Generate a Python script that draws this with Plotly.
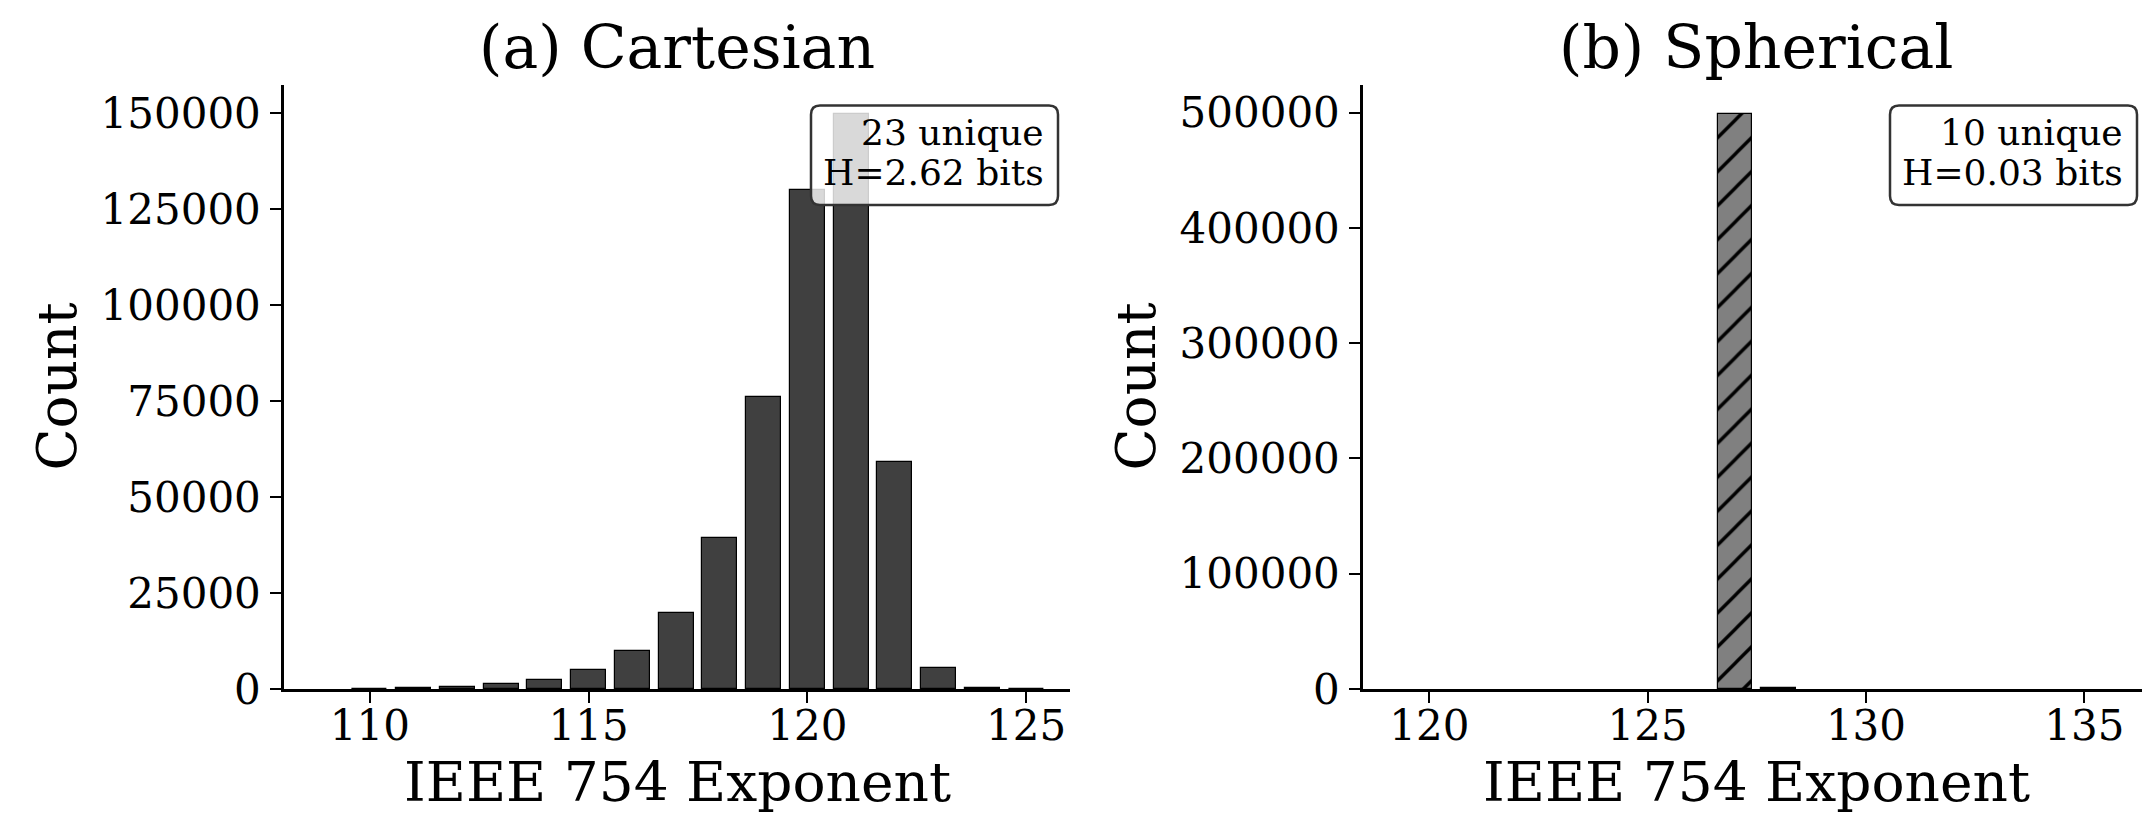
import plotly.graph_objects as go

# ---- data ----
cart_exp = [110, 111, 112, 113, 114, 115, 116, 117, 118, 119, 120, 121, 122, 123, 124, 125]
cart_cnt = [80, 250, 650, 1200, 2400, 4900, 9800, 19800, 39300, 76000, 130000, 149800, 59000, 5500, 300, 40]
sph_exp = [127, 128]
sph_cnt = [499000, 800]
titles = ["(a) Cartesian", "(b) Spherical"]
stats_line1 = ["23 unique", "10 unique"]
stats_line2 = ["H=2.62 bits", "H=0.03 bits"]
xlabel = "IEEE 754 Exponent"
ylabel = "Count"

W, H = 2142, 816
FONT = "DejaVu Serif"

# pixel geometry of the two axes
ax_px = [(284, 1070), (1363, 2142)]
y_top, y_bot = 85, 689
unit_px = [43.76, 43.66]
x_start = [108.04, 118.48]

fig = go.Figure()
fig.add_trace(go.Bar(x=cart_exp, y=cart_cnt, width=0.8, xaxis="x", yaxis="y",
                     marker=dict(color="#404040", line=dict(color="black", width=1.2)),
                     showlegend=False))
fig.add_trace(go.Bar(x=sph_exp, y=sph_cnt, width=0.8, xaxis="x2", yaxis="y2",
                     marker=dict(color="#808080", line=dict(color="black", width=1.2),
                                 pattern=dict(shape="/", fgcolor="black", bgcolor="#808080",
                                              fillmode="replace", size=24, solidity=0.14)),
                     showlegend=False))

def px(x):
    return x / W

def py(y):
    return (H - y) / H

axis_common = dict(showgrid=False, zeroline=False, showline=True, linecolor="black",
                   linewidth=2.5, ticks="outside", ticklen=11, tickwidth=2, automargin=False,
                   tickcolor="black", tickfont=dict(family=FONT, size=42, color="black"))

yd = [py(y_bot), py(y_top)]
for i, (x0, x1) in enumerate(ax_px):
    xr = [x_start[i], x_start[i] + (x1 - x0) / unit_px[i]]
    suffix = "" if i == 0 else "2"
    fig.layout["xaxis" + suffix] = dict(domain=[px(x0), px(x1)], range=xr, dtick=5, tick0=0,
                                        anchor="y" + suffix, ticklabelstandoff=-13, **axis_common)
counts = [cart_cnt, sph_cnt]
dticks = [25000, 100000]
for i in range(2):
    suffix = "" if i == 0 else "2"
    fig.layout["yaxis" + suffix] = dict(domain=yd, range=[0, max(counts[i]) * 1.05],
                                        dtick=dticks[i], tickformat="d",
                                        anchor="x" + suffix, ticklabelstandoff=1, **axis_common)

annotations = []
shapes = []
for i, (x0, x1) in enumerate(ax_px):
    full_right = x0 + 786
    cx = (x0 + full_right) / 2
    annotations.append(dict(text=titles[i], x=px(cx), y=py(47), xref="paper", yref="paper",
                            showarrow=False, xanchor="center", yanchor="middle",
                            font=dict(family=FONT, size=60, color="black")))
    annotations.append(dict(text=xlabel, x=px(cx), y=py(782), xref="paper", yref="paper",
                            showarrow=False, xanchor="center", yanchor="middle",
                            font=dict(family=FONT, size=55, color="black")))
    annotations.append(dict(text=ylabel, x=px(x0 - 227.5), y=py((y_top + y_bot) / 2),
                            xref="paper", yref="paper", textangle=-90,
                            showarrow=False, xanchor="center", yanchor="middle",
                            font=dict(family=FONT, size=55, color="black")))
    # rounded stat box
    bx1 = full_right - 12
    bx0 = bx1 - 247
    by0, by1 = 105.5, 205
    r = 9
    path = (f"M {px(bx0 + r)},{py(by0)} L {px(bx1 - r)},{py(by0)} "
            f"Q {px(bx1)},{py(by0)} {px(bx1)},{py(by0 + r)} "
            f"L {px(bx1)},{py(by1 - r)} Q {px(bx1)},{py(by1)} {px(bx1 - r)},{py(by1)} "
            f"L {px(bx0 + r)},{py(by1)} Q {px(bx0)},{py(by1)} {px(bx0)},{py(by1 - r)} "
            f"L {px(bx0)},{py(by0 + r)} Q {px(bx0)},{py(by0)} {px(bx0 + r)},{py(by0)} Z")
    shapes.append(dict(type="path", path=path, xref="paper", yref="paper",
                       fillcolor="rgba(255,255,255,0.8)", line=dict(color="#333333", width=2.5),
                       layer="above"))
    for txt, yc in ((stats_line1[i], 132.5), (stats_line2[i], 172.5)):
        annotations.append(dict(text=txt, x=px(bx1 - 12), y=py(yc),
                                xref="paper", yref="paper", showarrow=False, align="right",
                                xanchor="right", yanchor="middle",
                                font=dict(family=FONT, size=36, color="black")))

fig.update_layout(width=W, height=H, margin=dict(l=0, r=0, t=0, b=0, autoexpand=False),
                  paper_bgcolor="white", plot_bgcolor="white", template="none",
                  annotations=annotations, shapes=shapes, bargap=0)

fig.write_html("out.html")
